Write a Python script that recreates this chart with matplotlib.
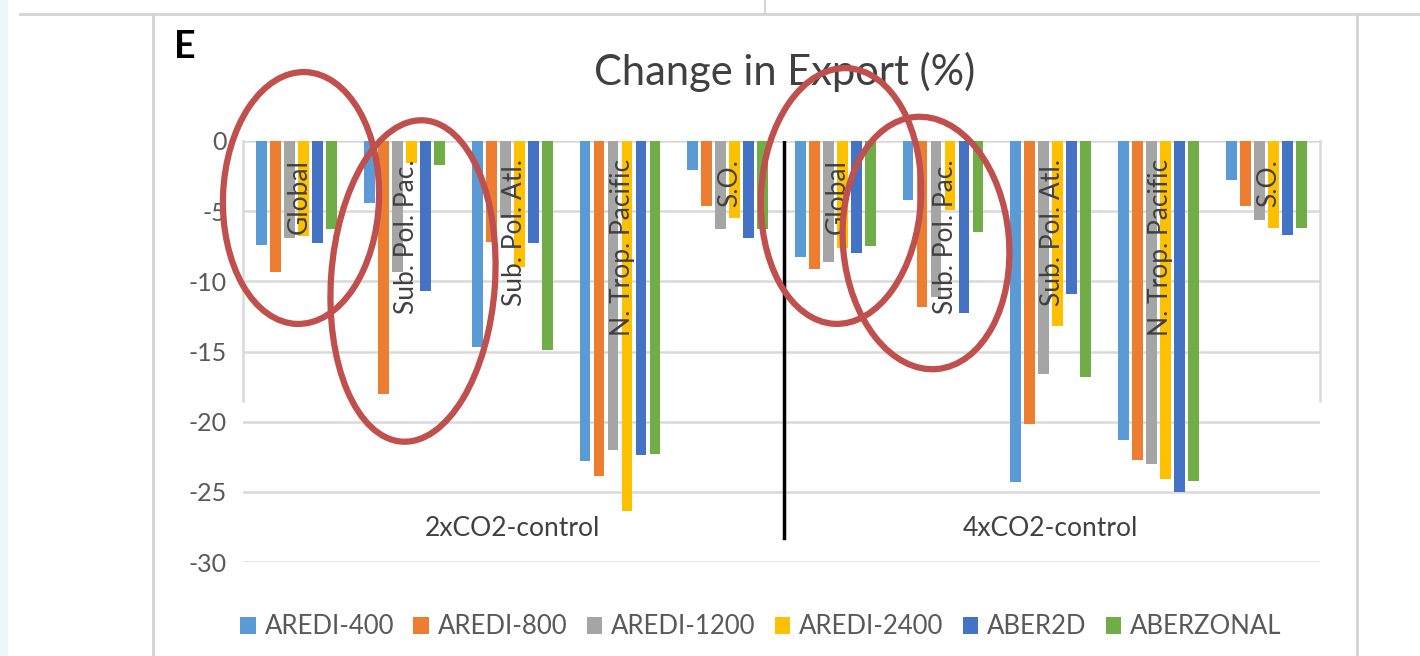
import matplotlib
matplotlib.use('Agg')
import matplotlib.pyplot as plt
import numpy as np
from matplotlib.patches import Ellipse, Patch, Rectangle

plt.rcParams['font.family'] = ['Lato', 'DejaVu Sans']
plt.rcParams['axes.unicode_minus'] = False

# data
regions = ['Global', 'Sub. Pol. Pac.', 'Sub. Pol. Atl.', 'N. Trop. Pacific', 'S.O.']
scenarios = ['2xCO2-control', '4xCO2-control']
series = ['AREDI-400', 'AREDI-800', 'AREDI-1200', 'AREDI-2400', 'ABER2D', 'ABERZONAL']

aredi_400 = [-7.4, -4.4, -14.7, -22.8, -2.1, -8.25, -4.2, -24.3, -21.3, -2.8]
aredi_800 = [-9.3, -18.0, -7.2, -23.9, -4.6, -9.15, -11.8, -20.2, -22.75, -4.6]
aredi_1200 = [-6.9, -9.35, -5.5, -22.0, -6.3, -8.65, -11.1, -16.6, -23.0, -5.6]
aredi_2400 = [-6.8, -1.6, -9.0, -26.4, -5.5, -7.6, -4.9, -13.2, -24.1, -6.2]
aber2d = [-7.3, -10.7, -7.3, -22.4, -6.9, -7.95, -12.25, -10.9, -25.0, -6.7]
aberzonal = [-6.3, -1.7, -14.9, -22.3, -6.3, -7.45, -6.45, -16.8, -24.2, -6.2]

colors = ['#5B9BD5', '#ED7D31', '#A5A5A5', '#FFC000', '#4472C4', '#70AD47']
values = [aredi_400, aredi_800, aredi_1200, aredi_2400, aber2d, aberzonal]

W, H = 1420, 656
fig = plt.figure(figsize=(W / 100, H / 100), dpi=100)
ax = fig.add_axes([243 / W, 1 - 562 / H, (1320 - 243) / W, (562 - 141) / H])

x = np.arange(len(regions) * len(scenarios))
pitch, bw = 0.13, 0.1
for i, (name, vals, c) in enumerate(zip(series, values, colors)):
    ax.bar(x + (i - 2.5) * pitch, vals, width=bw, color=c, label=name, zorder=2)

# category labels inside the bars
labels = regions + regions
for xi, lab in zip(x, labels):
    ax.text(xi + 0.02, -1.3, lab, rotation=90, ha='center', va='top', fontsize=19,
            color='#404040', zorder=3)

# scenario labels
for k, sc in enumerate(scenarios):
    ax.text(2 + 5 * k, -27.6, sc, ha='center', va='center', fontsize=19, color='#404040')

# black divider between scenarios
ax.plot([4.52, 4.52], [0, -28.3], color='black', lw=2.5, zorder=4)

ax.set_ylim(-30, 0)
ax.set_xlim(-0.5, 9.5)
ax.set_yticks(np.arange(-30, 1, 5))
ax.set_xticks([])
ax.grid(axis='y', color='#d9d9d9', lw=1.8, zorder=0)
for s in ax.spines.values():
    s.set_visible(False)
ax.tick_params(axis='y', length=0, pad=12, labelsize=18, labelcolor='#595959')
# partial plot-area borders
ax.plot([-0.5, -0.5], [0, -18.5], color='#d9d9d9', lw=1.8, zorder=1, clip_on=False)
ax.plot([9.5, 9.5], [0, -18.5], color='#d9d9d9', lw=1.8, zorder=1, clip_on=False)

fig.text(785 / W, 1 - 72 / H, 'Change in Export (%)', ha='center', va='center',
         fontsize=30, color='#404040')
fig.text(174 / W, 1 - 47 / H, 'E', ha='left', va='center', fontsize=27,
         fontweight='bold', color='black')

handles = [Patch(facecolor=c, edgecolor='none') for c in colors]
fig.legend(handles, series, loc='center', bbox_to_anchor=(761 / W, 29 / H), ncol=6,
           frameon=False, fontsize=18.5, handlelength=0.6, handleheight=0.6,
           handletextpad=0.35, columnspacing=0.75, labelcolor='#595959')

# overlay in pixel coordinates: page frame and red ellipses
ov = fig.add_axes([0, 0, 1, 1], zorder=10)
ov.set_xlim(0, W)
ov.set_ylim(H, 0)
ov.axis('off')
ov.patch.set_alpha(0)
ov.add_patch(Rectangle((0, 0), 8, H, color='#eaf8fb', lw=0))
ov.plot([20, W], [14, 14], color='#d4d4d4', lw=2)
ov.plot([153, 153], [14, H], color='#d4d4d4', lw=2)
ov.plot([1357, 1357], [14, H], color='#d4d4d4', lw=2)
ov.plot([765, 765], [0, 13], color='#d4d4d4', lw=1.5)

for (cx, cy, w, h, a) in [(301, 198, 156, 252, 2), (413, 281, 164, 322, 4),
                          (841, 196, 160, 256, 3), (926, 243, 166, 253, -5)]:
    ov.add_patch(Ellipse((cx, cy), w, h, angle=a, fill=False, edgecolor='#C0504D', lw=4.5))

fig.savefig('out.png', dpi=100)
